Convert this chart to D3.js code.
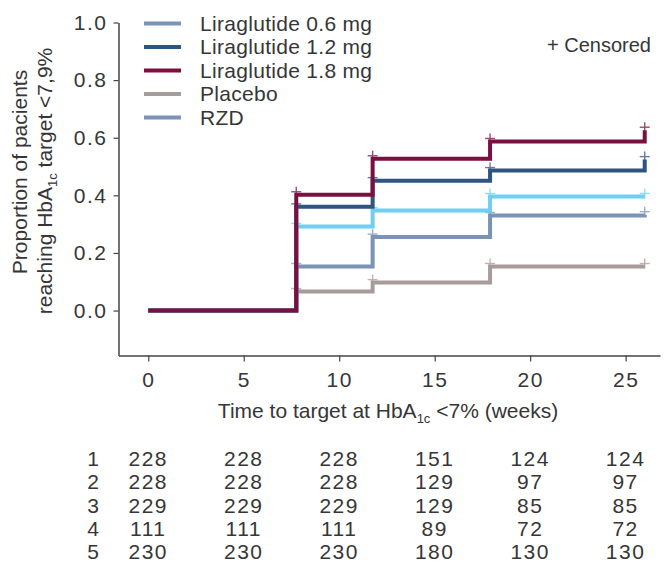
<!DOCTYPE html>
<html>
<head>
<meta charset="utf-8">
<script src="https://cdn.jsdelivr.net/npm/d3@7"></script>
<style>
  body { margin: 0; background: #fff; }
  svg { display: block; font-family: 'Liberation Sans', Arial, sans-serif; }
  text { fill: #363636; }
</style>
</head>
<body>
<div id="chart"></div>
<script>
// step times (weeks) and cumulative proportions per arm
const weeks = [0, 7.75, 11.75, 17.9, 26];
const lira06 = [0, 0.153, 0.255, 0.330, 0.333];
const lira12 = [0, 0.360, 0.451, 0.486, 0.524];
const lira18 = [0, 0.402, 0.527, 0.587, 0.626];
const placebo = [0, 0.066, 0.097, 0.153, 0.153];
const rzd = [0, 0.292, 0.347, 0.396, 0.396];

const legendNames = ['Liraglutide 0.6 mg', 'Liraglutide 1.2 mg', 'Liraglutide 1.8 mg', 'Placebo', 'RZD'];
const legendColors = ['#7B93B5', '#2E5480', '#7A1040', '#A69C9A', '#7B93B5'];

const xTicks = [0, 5, 10, 15, 20, 25];
const yTicks = [0, 0.2, 0.4, 0.6, 0.8, 1.0];

// numbers at risk, one row per arm, one value per x tick
const riskLabels = ['1', '2', '3', '4', '5'];
const risk1 = [228, 228, 228, 151, 124, 124];
const risk2 = [228, 228, 228, 129, 97, 97];
const risk3 = [229, 229, 229, 129, 85, 85];
const risk4 = [111, 111, 111, 89, 72, 72];
const risk5 = [230, 230, 230, 180, 130, 130];

const W = 666, H = 569;
const svg = d3.select('#chart').append('svg')
    .attr('width', W)
    .attr('height', H);

const x = d3.scaleLinear().domain([-1.56, 26.8]).range([118.5, 660]);
const y = d3.scaleLinear().domain([-0.156, 1]).range([355.5, 22.5]);

// axes
const xAxis = svg.append('g')
    .attr('transform', 'translate(0,355.5)')
    .call(d3.axisBottom(x).tickValues(xTicks).tickSize(6).tickSizeOuter(0).tickPadding(11));
const yAxis = svg.append('g')
    .attr('transform', 'translate(118.5,0)')
    .call(d3.axisLeft(y).tickValues(yTicks).tickFormat(d3.format('.1f')).tickSize(5).tickSizeOuter(0).tickPadding(6));
[xAxis, yAxis].forEach(a => {
    a.select('.domain').attr('stroke', '#444').attr('stroke-width', 1.5);
    a.selectAll('.tick line').attr('stroke', '#444').attr('stroke-width', 1.2);
    a.selectAll('.tick text')
        .attr('fill', '#363636')
        .style('font-size', '21px')
        .style('letter-spacing', '1.5px')
        .style('font-family', null);
});

// curves: draw order keeps 1.8 mg on top like the original
const series = [
    {vals: placebo, color: '#A69C9A'},
    {vals: lira06, color: '#7B93B5'},
    {vals: rzd, color: '#6ECFF2'},
    {vals: lira12, color: '#2E5480'},
    {vals: lira18, color: '#7A1040'}
];
const line = d3.line()
    .x(d => x(d[0]))
    .y(d => y(d[1]))
    .curve(d3.curveStepAfter);

const curves = svg.append('g').attr('id', 'curves');
series.forEach(s => {
    const pts = weeks.map((w, i) => [w, s.vals[i]]);
    curves.append('path')
        .attr('d', line(pts))
        .attr('fill', 'none')
        .attr('stroke', s.color)
        .attr('stroke-width', 4)
        .attr('stroke-linejoin', 'miter');
    // censor marks
    const g = curves.append('g').attr('stroke', s.color).attr('stroke-width', 1.4).attr('opacity', 0.75);
    pts.slice(1).forEach(p => {
        const cx = x(p[0]), cy = y(p[1]) - 3;
        g.append('line').attr('x1', cx - 5).attr('x2', cx + 5).attr('y1', cy).attr('y2', cy);
        g.append('line').attr('x1', cx).attr('x2', cx).attr('y1', cy - 5).attr('y2', cy + 5);
    });
});

// legend
const legend = svg.append('g').attr('id', 'legend');
legendNames.forEach((n, i) => {
    const ly = 23.5 + i * 23.5;
    legend.append('line')
        .attr('x1', 144).attr('x2', 181)
        .attr('y1', ly).attr('y2', ly)
        .attr('stroke', legendColors[i])
        .attr('stroke-width', 4);
    legend.append('text')
        .attr('x', 200).attr('y', ly + 7)
        .style('font-size', '21px')
        .style('letter-spacing', '0.3px')
        .text(n);
});
svg.append('text')
    .attr('x', 547).attr('y', 52)
    .style('font-size', '20px')
    .text('+ Censored');

// axis titles
svg.append('text')
    .attr('transform', 'translate(27,172) rotate(-90)')
    .attr('text-anchor', 'middle')
    .style('font-size', '21px')
    .text('Proportion of pacients');
const yl2 = svg.append('text')
    .attr('transform', 'translate(52,181) rotate(-90)')
    .attr('text-anchor', 'middle')
    .style('font-size', '21px');
yl2.append('tspan').text('reaching HbA');
yl2.append('tspan').attr('dy', 5).style('font-size', '13px').text('1c');
yl2.append('tspan').attr('dy', -5).text(' target <7,9%');

const xl = svg.append('text')
    .attr('x', 388).attr('y', 418)
    .attr('text-anchor', 'middle')
    .style('font-size', '21px');
xl.append('tspan').text('Time to target at HbA');
xl.append('tspan').attr('dy', 5).style('font-size', '13px').text('1c');
xl.append('tspan').attr('dy', -5).text(' <7% (weeks)');

// numbers at risk table
const riskRows = [risk1, risk2, risk3, risk4, risk5];
const table = svg.append('g').attr('id', 'risk');
riskRows.forEach((row, r) => {
    const ty = 466 + r * 23.3;
    table.append('text')
        .attr('x', 93).attr('y', ty)
        .attr('text-anchor', 'middle')
        .style('font-size', '21px')
        .text(riskLabels[r]);
    row.forEach((v, c) => {
        table.append('text')
            .attr('x', x(xTicks[c])).attr('y', ty)
            .attr('text-anchor', 'middle')
            .style('font-size', '21px')
            .style('letter-spacing', '1.5px')
            .text(v);
    });
});
</script>
</body>
</html>
